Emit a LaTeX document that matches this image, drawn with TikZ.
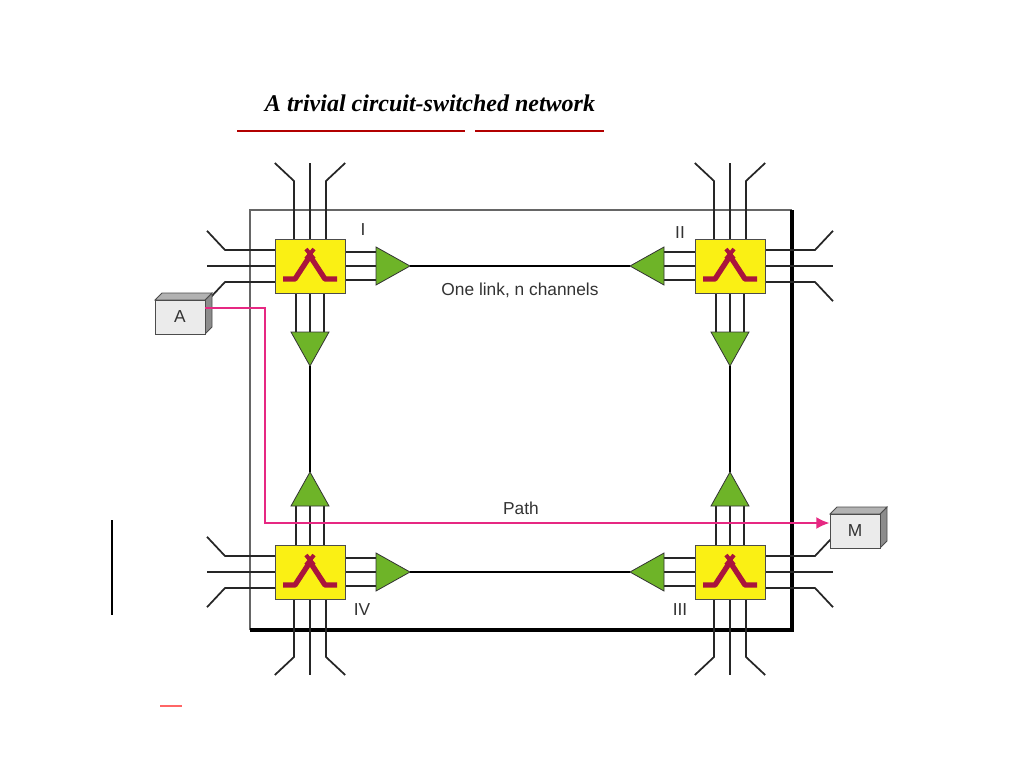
\documentclass[tikz,border=0pt]{standalone}
\usepackage{fontspec}
\setmainfont{Liberation Serif}
\newfontfamily\lab{Liberation Sans}
\usetikzlibrary{arrows.meta}
\definecolor{swy}{RGB}{250,240,20}
\definecolor{trg}{RGB}{110,180,40}
\definecolor{pth}{RGB}{230,40,130}
\definecolor{sym}{RGB}{170,20,60}
\tikzset{
  stub/.style={line width=1.3pt,black!85},
  swbox/.style={draw=black!70,fill=swy,minimum width=52.5pt,minimum height=40.5pt,inner sep=0},
  tri/.style={draw=black!80,fill=trg,line width=0.6pt},
  link/.style={line width=2pt,black},
  lbl/.style={font=\lab\fontsize{13}{15}\selectfont,text=black!80},
  hostf/.style={draw=black!70,fill=black!8,line width=0.6pt},
}
\newcommand\extside[3]{% cx cy rot
  \begin{scope}[shift={(#1,#2)},rotate=#3]
    \foreach \o in {-16,16}{\draw[stub] (\o,0)--(\o,-85)--(2.2*\o,-103);}
    \draw[stub] (0,0)--(0,-103);
  \end{scope}}
\newcommand\intside[4]{% cx cy rot name
  \begin{scope}[shift={(#1,#2)},rotate=#3]
    \foreach \o in {-14,0,14}{\draw[stub] (\o,0)--(\o,-68);}
    \draw[tri] (-19,-66)--(19,-66)--(0,-100)--cycle;
    \coordinate (#4) at (0,-100);
  \end{scope}}
\newcommand\swsym[2]{%
  \begin{scope}[shift={(#1,#2)}]
  \draw[sym,line width=4pt,line join=round] (-27,13)--(-15,13)--(0,-10)--(15,13)--(27,13);
  \draw[sym,line width=3pt] (-4,-17)--(4,-7) (4,-17)--(-4,-7);
  \end{scope}}
\begin{document}
\begin{tikzpicture}[x=0.75pt,y=-0.75pt]
\useasboundingbox[fill=white] (0,0) rectangle (1024,768);
% title
\node (title) at (430,103) {\fontsize{18}{20}\selectfont\bfseries\itshape A trivial circuit-switched network};
\draw[red!70!black,line width=1pt] (237,131)--(465,131) (475,131)--(604,131);
% stray marks
\draw[black,line width=1pt] (112,520)--(112,615);
\draw[red!60,line width=1.2pt] (160,706)--(182,706);
% frame
\draw[black!60,line width=1.2pt] (250,630)--(250,210)--(792,210);
\draw[black,line width=3pt] (792,210)--(792,630)--(250,630);
% external stubs
\extside{310}{266}{0}\extside{310}{266}{90}
\extside{730}{266}{0}\extside{730}{266}{-90}
\extside{310}{572}{180}\extside{310}{572}{90}
\extside{730}{572}{180}\extside{730}{572}{-90}
% internal sides
\intside{310}{266}{-90}{Ir}\intside{310}{266}{180}{Id}
\intside{730}{266}{90}{IIl}\intside{730}{266}{180}{IId}
\intside{310}{572}{-90}{IVr}\intside{310}{572}{0}{IVu}
\intside{730}{572}{90}{IIIl}\intside{730}{572}{0}{IIIu}
% links
\draw[link] (Ir)--(IIl);
\draw[link] (IVr)--(IIIl);
\draw[link] (Id)--(IVu);
\draw[link] (IId)--(IIIu);
% switches
\node[swbox] (s1) at (310,266) {}; \swsym{310}{266}
\node[swbox] (s2) at (730,266) {}; \swsym{730}{266}
\node[swbox] (s4) at (310,572) {}; \swsym{310}{572}
\node[swbox] (s3) at (730,572) {}; \swsym{730}{572}
\node[lbl] (l1) at (363,230) {I};
\node[lbl] (l2) at (680,233) {II};
\node[lbl] (l4) at (362,610) {IV};
\node[lbl] (l3) at (680,610) {III};
\node[lbl] (one) at (520,290) {One link, n channels};
\node[lbl] (pl) at (521,508) {Path};
% hosts
\draw[hostf,fill=black!45] (205,300)--(212,293)--(212,327)--(205,334)--cycle;
\draw[hostf,fill=black!30] (155,300)--(162,293)--(212,293)--(205,300)--cycle;
\node[hostf,minimum width=37.5pt,minimum height=25.5pt,inner sep=0,lbl] (A) at (180,317) {A};
\draw[hostf,fill=black!45] (880,514)--(887,507)--(887,541)--(880,548)--cycle;
\draw[hostf,fill=black!30] (830,514)--(837,507)--(887,507)--(880,514)--cycle;
\node[hostf,minimum width=37.5pt,minimum height=25.5pt,inner sep=0,lbl] (M) at (855,531) {M};
% path
\coordinate (p1) at (265,308);
\coordinate (p2) at (265,523);
\draw[pth,line width=1.6pt,-{Latex[length=10pt,width=9pt]}] (A.east|-p1)--(p1)--(p2)--(M.west|-p2);
\end{tikzpicture}
\end{document}
